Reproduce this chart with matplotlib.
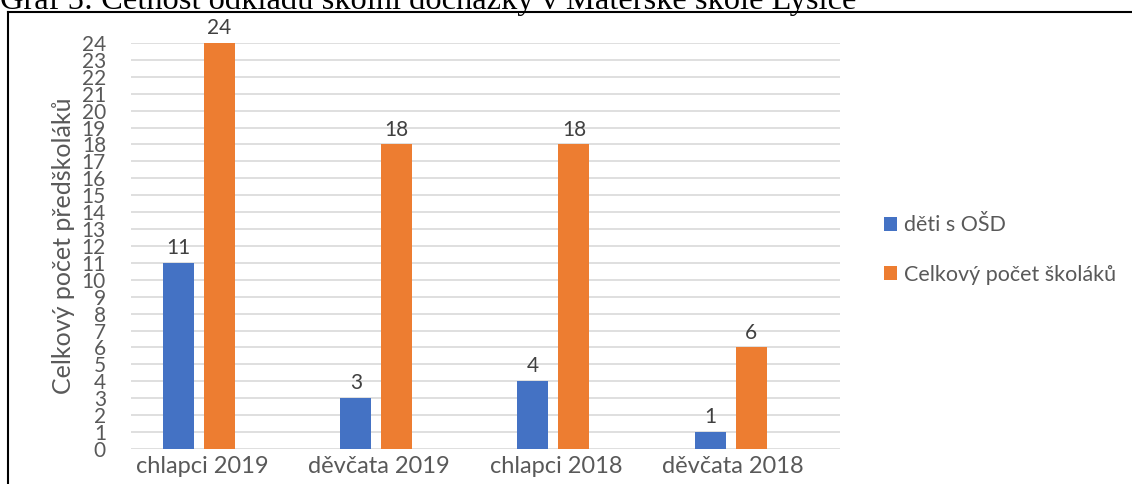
import matplotlib.pyplot as plt
import numpy as np

plt.rcParams['font.family'] = ['Lato', 'DejaVu Sans']

categories = ["chlapci 2019", "děvčata 2019", "chlapci 2018", "děvčata 2018"]
osd = [11, 3, 4, 1]          # děti s OŠD
total = [24, 18, 18, 6]      # Celkový počet školáků
yticks = list(range(0, 25))

blue = "#4472C4"
orange = "#ED7D31"
grey = "#595959"

fig = plt.figure(figsize=(11.32, 4.84), dpi=100)
ax = fig.add_axes([0.1157, 0.0723, 0.626, 0.839])

x = np.arange(len(categories))
w = 0.175
b1 = ax.bar(x - 0.231, osd, w, color=blue, label="děti s OŠD", zorder=3)
b2 = ax.bar(x, total, w, color=orange, label="Celkový počet školáků", zorder=3)

# value labels above the bars
for bars in (b1, b2):
    for r in bars:
        ax.annotate(str(int(r.get_height())), (r.get_x() + r.get_width() / 2, r.get_height()),
                    xytext=(0, 3.5), textcoords="offset points", ha="center", va="bottom",
                    fontsize=15, color="#404040")

ax.set_xlim(-0.5, len(categories) - 0.5)
ax.set_ylim(0, 24)
ax.set_yticks(yticks)
ax.set_yticklabels([str(t) for t in yticks], fontsize=15, color=grey)
ax.set_xticks(x - 0.1)
ax.set_xticklabels(categories, fontsize=17, color=grey)
ax.tick_params(axis="both", length=0)
ax.tick_params(axis="y", pad=18)
ax.tick_params(axis="x", pad=5)
ax.grid(axis="y", color="#d9d9d9", lw=1.2, zorder=0)
for s in ax.spines.values():
    s.set_visible(False)

ax.set_ylabel("Celkový počet předškoláků", fontsize=18, color=grey, labelpad=5)

ax.legend(loc="center left", bbox_to_anchor=(1.035, 0.49), frameon=False, fontsize=15.5,
          labelcolor=grey, handlelength=0.6, handleheight=0.6, handletextpad=0.35,
          labelspacing=1.35)

# cut-off caption above the chart frame
fig.text(0.0, 1 - 9 / 484, "Graf 5: Četnost odkladu školní docházky v Mateřské škole Lysice",
         family="Liberation Serif", fontsize=23.4, va="baseline", ha="left", color="black")

# chart frame (only left and top edges are visible)
fig.add_artist(plt.Line2D([8 / 1132, 8 / 1132], [0, 1 - 12 / 484], color="black", lw=1.5))
fig.add_artist(plt.Line2D([8 / 1132, 1], [1 - 12 / 484, 1 - 12 / 484], color="black", lw=1.5))

fig.savefig("out.png", dpi=100)
